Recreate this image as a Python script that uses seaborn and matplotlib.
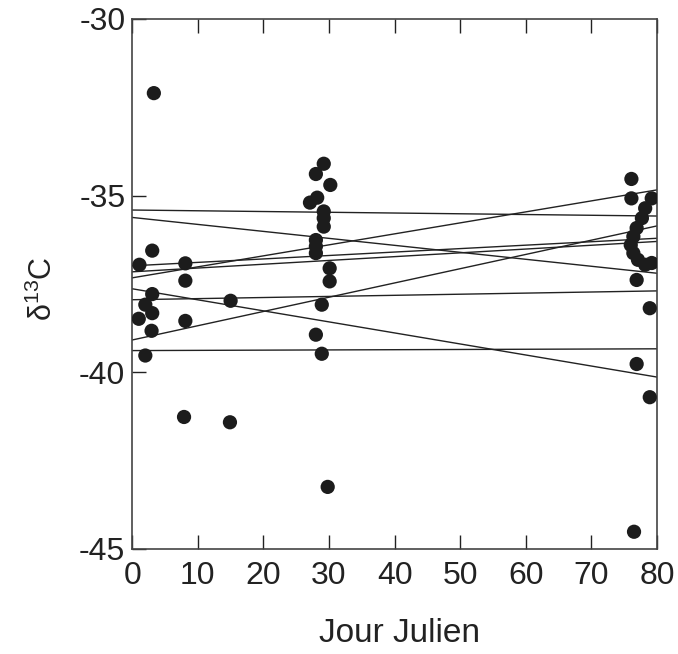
import matplotlib
matplotlib.use("Agg")
import matplotlib.pyplot as plt
import numpy as np
import pandas as pd
import seaborn as sns

# Observations: Julian day and carbon isotope ratio
jour = [3.3, 1.1, 3.05, 8.1, 8.1, 3.05, 2.0, 3.05, 1.0, 8.1, 2.95, 2.0,
        15.0, 7.9, 14.9,
        29.2, 28.0, 30.2, 28.2, 27.1, 29.2, 29.2, 29.2, 28.0, 28.0, 28.0,
        30.1, 30.1, 28.9, 28.0, 28.9, 29.8,
        76.1, 76.1, 79.2, 78.2, 77.7, 76.9, 76.4, 76.0, 76.4, 77.1, 78.2,
        79.2, 76.9, 78.9, 76.9, 78.9, 76.5]
d13c = [-32.10, -36.96, -36.56, -36.92, -37.41, -37.79, -38.09, -38.33,
        -38.49, -38.55, -38.83, -39.53,
        -37.98, -41.27, -41.42,
        -34.10, -34.39, -34.70, -35.06, -35.20, -35.45, -35.64, -35.88,
        -36.26, -36.44, -36.63,
        -37.06, -37.43, -38.09, -38.94, -39.48, -43.25,
        -34.53, -35.08, -35.08, -35.36, -35.64, -35.92, -36.16, -36.40,
        -36.63, -36.82, -36.96, -36.91, -37.39, -38.19, -39.77, -40.71,
        -44.52]

# Regression lines: value at day 0 and at day 80
line_start = [-35.41, -35.62, -37.33, -36.99, -37.16, -37.64, -37.95, -39.09, -39.39]
line_end = [-35.58, -37.20, -34.84, -36.21, -36.30, -40.14, -37.70, -35.86, -39.34]
line_days = [0, 80]

x_ticks = [0, 10, 20, 30, 40, 50, 60, 70, 80]
y_ticks = [-45, -40, -35, -30]

sns.set_theme(style="ticks")
plt.rcParams["font.family"] = ["Liberation Sans", "DejaVu Sans"]
plt.rcParams["mathtext.fontset"] = "custom"
plt.rcParams["mathtext.rm"] = "Liberation Sans"
plt.rcParams["mathtext.default"] = "regular"
plt.rcParams["axes.unicode_minus"] = False

fig = plt.figure(figsize=(6.78, 6.54), dpi=100)
ax = fig.add_axes([0.195, 0.161, 0.774, 0.810])

lines = pd.DataFrame({
    "jour": np.tile(line_days, len(line_start)),
    "d13c": np.ravel(np.column_stack([line_start, line_end])),
    "ligne": np.repeat(np.arange(len(line_start)), 2),
})
sns.lineplot(data=lines, x="jour", y="d13c", units="ligne", estimator=None,
             color="#222222", linewidth=1.0, ax=ax, legend=False)

pts = pd.DataFrame({"jour": jour, "d13c": d13c})
sns.scatterplot(data=pts, x="jour", y="d13c", s=105, color="#1c1c1c",
                edgecolor="none", ax=ax, zorder=3, legend=False)

ax.set_xlim(0, 80)
ax.set_ylim(-45, -30)
ax.set_xticks(x_ticks)
ax.set_yticks(y_ticks)
ax.tick_params(axis="both", direction="in", length=10, width=1.0,
               labelsize=23, colors="#222222")
ax.tick_params(axis="x", top=True, pad=9)
ax.tick_params(axis="y", pad=5)
for s in ax.spines.values():
    s.set_linewidth(1.2)
    s.set_color("#444444")

ax.set_xlabel("Jour Julien", fontsize=24, color="#222222")
ax.xaxis.set_label_coords(0.51, -0.13)
ax.set_ylabel("δ$^{13}$C", fontsize=22, color="#222222")
ax.yaxis.set_label_coords(-0.14, 0.49)

fig.savefig("out.png", dpi=100, facecolor="white")
